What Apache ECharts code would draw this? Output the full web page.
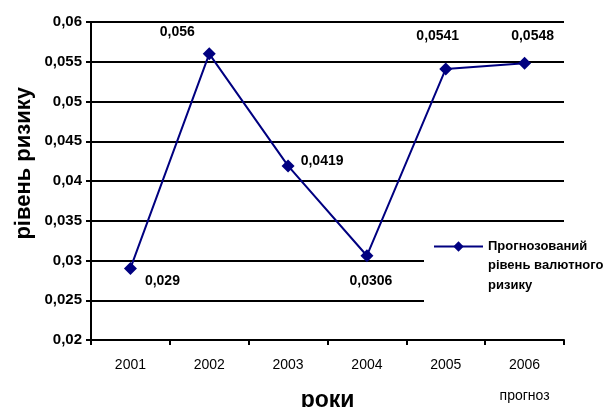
<!DOCTYPE html>
<html>
<head>
<meta charset="utf-8">
<script src="https://cdn.jsdelivr.net/npm/echarts@6/dist/echarts.min.js"></script>
<style>
html,body{margin:0;padding:0;background:#fff;}
#c{width:609px;height:407px;}
</style>
</head>
<body>
<div id="c"></div>
<script>
const years = ['2001', '2002', '2003', '2004', '2005', '2006'];
const riskValues = [0.029, 0.056, 0.0419, 0.0306, 0.0541, 0.0548];
const yTicks = [0.02, 0.025, 0.03, 0.035, 0.04, 0.045, 0.05, 0.055, 0.06];
const seriesName = 'Прогнозований';
const legendExtraLines = ['рівень валютного', 'ризику'];
const forecastNote = 'прогноз';
const xTitle = 'роки';
const yTitle = 'рівень ризику';

// label offsets (style only)
const labelOffsets = [[32, 13], [-32, -22], [34, -5], [4, 25], [-8, -33], [8, -27]];

function fmt(v) {
  return String(parseFloat(Number(v).toFixed(4))).replace('.', ',');
}

const chart = echarts.init(document.getElementById('c'), null, {renderer: 'canvas'});
const FONT = 'Liberation Sans, Arial, sans-serif';

chart.setOption({
  animation: false,
  backgroundColor: '#fff',
  textStyle: {fontFamily: FONT},
  grid: {left: 91, right: 45, top: 22, bottom: 67, containLabel: false, outerBoundsMode: 'none'},
  xAxis: {
    type: 'category',
    data: years,
    boundaryGap: true,
    name: xTitle,
    nameLocation: 'middle',
    nameGap: 61,
    nameMoveOverlap: false,
    nameTextStyle: {fontSize: 23, fontWeight: 'bold', color: '#000', fontFamily: FONT, verticalAlign: 'middle'},
    axisLine: {show: true, lineStyle: {color: '#000', width: 2}},
    axisTick: {show: true, interval: 0, alignWithLabel: false, length: 5, lineStyle: {color: '#000', width: 2}},
    axisLabel: {
      interval: 0,
      margin: 16,
      color: '#000',
      fontFamily: FONT,
      formatter: function (v) {
        return v === years[years.length - 1] ? '{a|' + v + '}\n{b|' + forecastNote + '}' : '{a|' + v + '}';
      },
      rich: {
        a: {fontSize: 14, lineHeight: 18, color: '#000', fontFamily: FONT},
        b: {fontSize: 14, lineHeight: 44, color: '#000', fontFamily: FONT}
      }
    },
    splitLine: {show: false}
  },
  yAxis: {
    type: 'value',
    min: yTicks[0],
    max: yTicks[yTicks.length - 1],
    interval: 0.005,
    axisLine: {show: true, lineStyle: {color: '#000', width: 2}},
    axisTick: {show: true, length: 5, lineStyle: {color: '#000', width: 2}},
    axisLabel: {margin: 9, color: '#000', fontSize: 15, fontWeight: 'bold', fontFamily: FONT, formatter: fmt},
    splitLine: {show: true, lineStyle: {color: '#000', width: 2}}
  },
  legend: {
    show: true,
    left: 428,
    top: 235,
    itemWidth: 49,
    itemHeight: 13,
    itemGap: 5,
    textStyle: {fontSize: 13, fontWeight: 'bold', color: '#000', fontFamily: FONT},
    data: [seriesName],
    z: 20
  },
  graphic: [
    {type: 'rect', left: 424, top: 226, shape: {width: 185, height: 86}, style: {fill: '#fff'}, z: 10},
    {type: 'text', left: 488, top: 259, style: {text: legendExtraLines[0], font: 'bold 13px ' + FONT, fill: '#000'}, z: 20},
    {type: 'text', left: 488, top: 279, style: {text: legendExtraLines[1], font: 'bold 13px ' + FONT, fill: '#000'}, z: 20},
    {type: 'text', rotation: Math.PI / 2, left: 13, top: 87, style: {text: yTitle, font: 'bold 22px ' + FONT, fill: '#000'}, z: 20}
  ],
  series: [{
    name: seriesName,
    type: 'line',
    data: riskValues.map(function (v, i) {
      return {value: v, label: {offset: labelOffsets[i]}};
    }),
    symbol: 'diamond',
    symbolSize: 13,
    lineStyle: {color: '#000080', width: 2},
    itemStyle: {color: '#000080'},
    label: {
      show: true,
      position: 'inside',
      color: '#000',
      fontSize: 14,
      fontWeight: 'bold',
      fontFamily: FONT,
      formatter: function (p) { return fmt(p.value); }
    },
    z: 5
  }]
});
</script>
</body>
</html>
